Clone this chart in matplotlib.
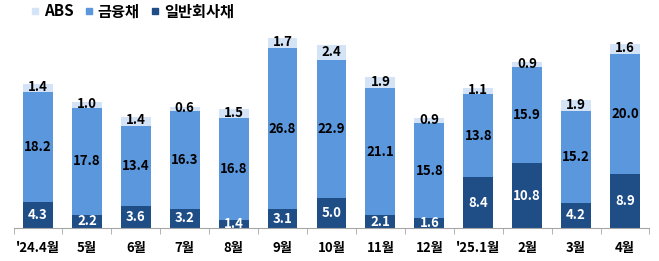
import numpy as np
import matplotlib.pyplot as plt
from matplotlib.lines import Line2D

plt.rcParams['font.family'] = ['Noto Sans CJK KR', 'DejaVu Sans']

months = ["'24.4월", "5월", "6월", "7월", "8월", "9월", "10월", "11월", "12월",
          "'25.1월", "2월", "3월", "4월"]
corp = [4.3, 2.2, 3.6, 3.2, 1.4, 3.1, 5.0, 2.1, 1.6, 8.4, 10.8, 4.2, 8.9]
fin = [18.2, 17.8, 13.4, 16.3, 16.8, 26.8, 22.9, 21.1, 15.8, 13.8, 15.9, 15.2, 20.0]
abs_ = [1.4, 1.0, 1.4, 0.6, 1.5, 1.7, 2.4, 1.9, 0.9, 1.1, 0.9, 1.9, 1.6]

c_abs = '#d5e3f6'
c_fin = '#5b97dd'
c_corp = '#1f4d86'

fig = plt.figure(figsize=(6.59, 2.61), dpi=100)
ax = fig.add_axes([0.0205, 0.126, 0.965, 0.79])

x = np.arange(len(months))
corp = np.array(corp)
fin = np.array(fin)
abs_ = np.array(abs_)
w = 0.61
ax.bar(x, corp, w, color=c_corp)
ax.bar(x, fin, w, bottom=corp, color=c_fin)
ax.bar(x, abs_, w, bottom=corp + fin, color=c_abs)

for i in range(len(x)):
    ax.text(x[i], corp[i] / 2, f'{corp[i]:.1f}', ha='center', va='center',
            color='white', fontsize=9.5, fontweight='bold')
    ax.text(x[i], corp[i] + fin[i] / 2, f'{fin[i]:.1f}', ha='center', va='center',
            color='black', fontsize=9.5, fontweight='bold')
    ax.text(x[i], corp[i] + fin[i] + abs_[i] / 2 + 0.15, f'{abs_[i]:.1f}', ha='center',
            va='center', color='black', fontsize=9.5, fontweight='bold')

ax.set_xlim(-0.5, len(x) - 0.5)
ax.set_ylim(0, 34.2)
ax.set_yticks([])
for s in ['top', 'right', 'left']:
    ax.spines[s].set_visible(False)
ax.spines['bottom'].set_color('#a6a6a6')
ax.set_xticks(x)
ax.set_xticklabels(months, fontsize=9.5, fontweight='bold')
ax.tick_params(axis='x', which='major', length=0, pad=9)
ax.set_xticks(np.arange(-0.5, len(x)), minor=True)
ax.tick_params(axis='x', which='minor', length=4, color='#a6a6a6')

handles = [Line2D([], [], marker='s', ls='', color=c, markersize=5)
           for c in [c_abs, c_fin, c_corp]]
fig.legend(handles, ['ABS', '금융채', '일반회사채'], loc='upper left',
           bbox_to_anchor=(0.02, 1.04), ncol=3, frameon=False,
           prop={'size': 11, 'weight': 'bold'}, handletextpad=0.1,
           columnspacing=0.5, handlelength=1.0)

fig.savefig('out.png', dpi=100)
